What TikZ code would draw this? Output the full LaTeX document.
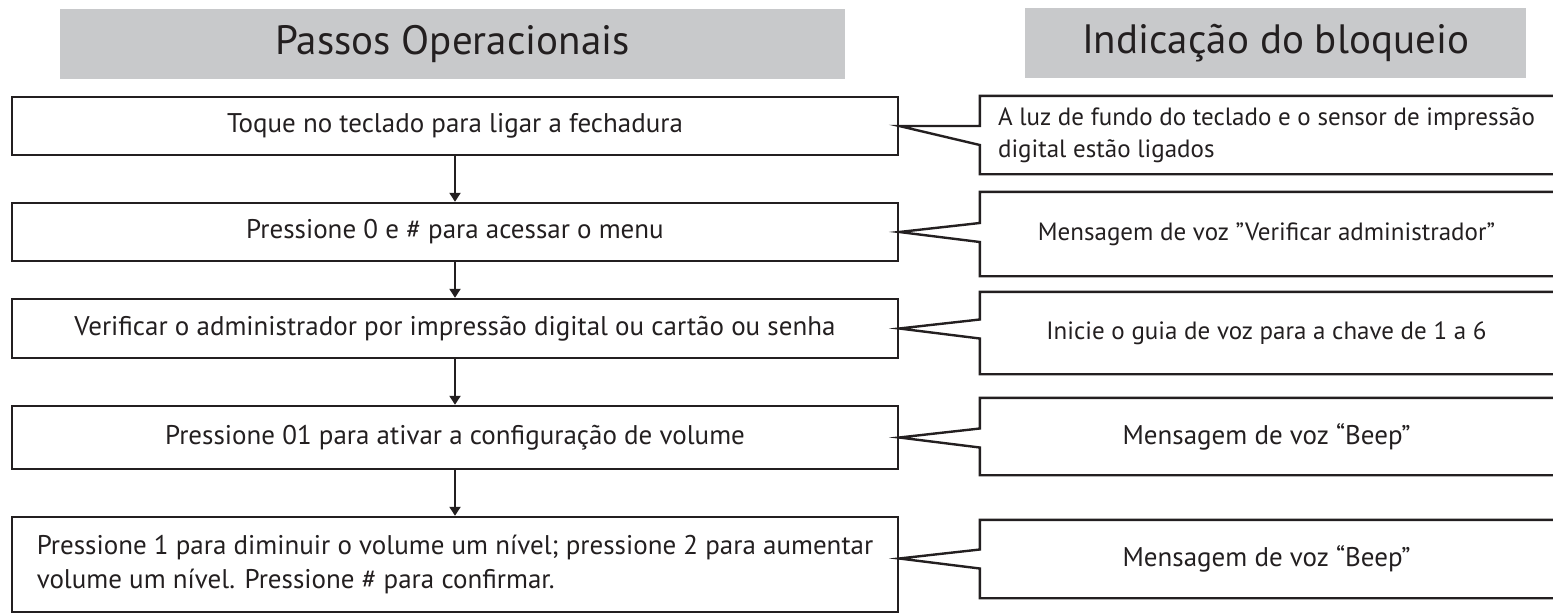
\documentclass[tikz,border=0pt]{standalone}
\usepackage{fontspec}
\setmainfont{PT Sans}
\usetikzlibrary{positioning,arrows.meta}

\definecolor{ink}{RGB}{35,31,32}
\definecolor{headgray}{RGB}{200,201,203}

\tikzset{
  head/.style={fill=headgray, text=ink, minimum width=785pt, minimum height=70pt,
    inner sep=0pt, font=\fontsize{41}{49}\selectfont},
  stepbox/.style={draw=ink, line width=2.4pt, text=ink, minimum width=886pt,
    inner sep=0pt, font=\fontsize{27}{34}\selectfont},
  info/.style={text=ink, minimum width=573pt, inner sep=0pt,
    font=\fontsize{25}{32}\selectfont},
  frame/.style={draw=ink, line width=2.4pt, line join=miter},
  flow/.style={draw=ink, line width=2pt, -{Triangle[length=9pt,width=11pt]}},
}

\begin{document}
\begin{tikzpicture}[x=1pt,y=-1pt]
   \useasboundingbox (0,0) rectangle (1553,613);
   \clip (0,0) rectangle (1553,613);

   % column titles
   \node[head] (hl) at (452.5,44) {Passos Operacionais};
   \node[head, minimum width=501pt] (hr) at (1275.5,43) {Indicação do bloqueio};

   % steps
   \node[stepbox, minimum height=58pt] (s1) at (455,126) {Toque no teclado para ligar a fechadura};
   \node[stepbox, minimum height=58pt] (s2) at (455,232) {Pressione 0 e \# para acessar o menu};
   \node[stepbox, minimum height=59pt] (s3) at (455,328.5) {Verificar o administrador por impressão digital ou cartão ou senha};
   \node[stepbox, minimum height=63pt] (s4) at (455,437.5) {Pressione 01 para ativar a configuração de volume};
   \node[stepbox, minimum height=95pt, align=left] (s5) at (455,564.5)
     {Pressione 1 para diminuir o volume um nível; pressione 2 para aumentar\\volume um nível. Pressione \# para confirmar.};

   \draw[flow] (s1) -- (s2);
   \draw[flow] (s2) -- (s3);
   \draw[flow] (s3) -- (s4);
   \draw[flow] (s4) -- (s5);

   % indications
   \node[info, minimum height=78pt, align=left] (i1) at (1266.5,135)
     {A luz de fundo do teclado e o sensor de impressão\\digital estão ligados};
   \node[info, minimum height=84pt] (i2) at (1266.5,234) {Mensagem de voz "Verificar administrador”};
   \node[info, minimum height=82pt] (i3) at (1266.5,333) {Inicie o guia de voz para a chave de 1 a 6};
   \node[info, minimum height=77pt, font=\fontsize{27}{32}\selectfont] (i4) at (1266.5,436.5) {Mensagem de voz “Beep”};
   \node[info, minimum height=78pt, font=\fontsize{27}{32}\selectfont] (i5) at (1266.5,559) {Mensagem de voz “Beep”};

   % pointers of the indications
   \coordinate (t1) at (s1.east);
   \coordinate (l1) at ([yshift=-19pt]s1.east);
   \draw[frame] ([xshift=20pt]i1.north east) -- (i1.north west) -- (i1.west |- t1) -- (t1)
      -- (i1.west |- l1) -- (i1.south west) -- ([xshift=20pt]i1.south east);

   \coordinate (t2) at (s2.east);
   \coordinate (u2) at ([yshift=9pt]s2.east);
   \coordinate (l2) at ([yshift=-10pt]s2.east);
   \draw[frame] ([xshift=20pt]i2.north east) -- (i2.north west) -- (i2.west |- u2) -- (t2)
      -- (i2.west |- l2) -- (i2.south west) -- ([xshift=20pt]i2.south east);

   \coordinate (t3) at (s3.east);
   \coordinate (u3) at ([yshift=9pt]s3.east);
   \coordinate (l3) at ([yshift=-10pt]s3.east);
   \draw[frame] ([xshift=20pt]i3.north east) -- (i3.north west) -- (i3.west |- u3) -- (t3)
      -- (i3.west |- l3) -- (i3.south west) -- ([xshift=20pt]i3.south east);

   \coordinate (t4) at (s4.east);
   \coordinate (u4) at ([yshift=9pt]s4.east);
   \coordinate (l4) at ([yshift=-10pt]s4.east);
   \draw[frame] ([xshift=20pt]i4.north east) -- (i4.north west) -- (i4.west |- u4) -- (t4)
      -- (i4.west |- l4) -- (i4.south west) -- ([xshift=20pt]i4.south east);

   \coordinate (t5) at ([yshift=6pt]s5.east);
   \coordinate (u5) at ([yshift=15pt]s5.east);
   \coordinate (l5) at ([yshift=-4pt]s5.east);
   \draw[frame] ([xshift=20pt]i5.north east) -- (i5.north west) -- (i5.west |- u5) -- (t5)
      -- (i5.west |- l5) -- (i5.south west) -- ([xshift=20pt]i5.south east);
\end{tikzpicture}
\end{document}
